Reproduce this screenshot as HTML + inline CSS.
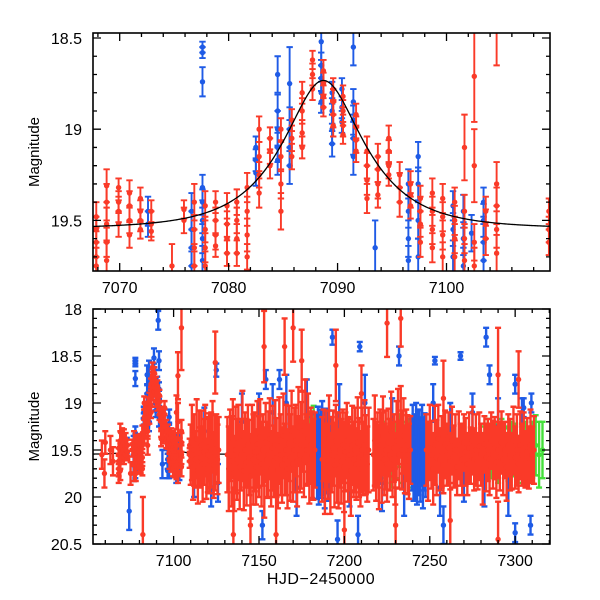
<!DOCTYPE html>
<html><head><meta charset="utf-8"><style>
html,body{margin:0;padding:0;background:#fff;}
svg{display:block;font-family:"Liberation Sans",Arial,sans-serif;}
</style></head><body>
<svg id="chart" width="600" height="600" viewBox="0 0 600 600" xmlns="http://www.w3.org/2000/svg">
<defs>
<clipPath id="clipTop"><rect x="93" y="33" width="457" height="238"/></clipPath>
<clipPath id="clipBot"><rect x="93" y="309" width="457" height="235"/></clipPath>
</defs>
<g id="topPanel"></g>
<g id="botPanel"></g>
</svg>
<script>
// ---- data arrays ----
const redDay = [7058,7059.5,7060,7063,7064.5,
7067.85,7067.85,7067.85,7067.85,7067.85, 7068.8,7068.8,7068.8,7068.8,7068.8, 7069.9,7069.9,7069.9,7069.9,
7070.9,7070.9,7070.9,7070.9, 7071.9,7071.9,7071.9,7071.9, 7072.9,7072.9,7072.9, 7074.8, 7075.9,7075.9,
7076.85,7076.85,7076.85,7076.85, 7077.85,7077.85,7077.85,7077.85, 7078.8,7078.8,7078.8,7078.8,
7079.85,7079.85,7079.85,7079.85, 7080.75,7080.75,7080.75,7080.75, 7081.7,7081.7,7081.7,7081.7,
7082.8,7082.8,7082.8,7082.8, 7083.8,7083.8,7083.8, 7084.8,7084.8,7084.8,7084.8, 7085.8,7085.8,7085.8,
7086.75,7086.75,7086.75,7086.75, 7087.7,7087.7,7087.7, 7088.7,7088.7,7088.7,7088.7, 7089.6,7089.6,7089.6,7089.6,
7090.5,7090.5,7090.5,7090.5, 7091.7,7091.7,7091.7,7091.7, 7092.7,7092.7,7092.7,7092.7, 7093.7,7093.7,7093.7,7093.7,
7094.7,7094.7,7094.7,7094.7, 7095.7,7095.7,7095.7, 7096.7,7096.7,7096.7, 7097.6,7097.6,7097.6,7097.6,
7098.7,7098.7,7098.7,7098.7, 7099.65,7099.65,7099.65,7099.65, 7100.75,7100.75,7100.75,7100.75,
7101.65,7101.65,7101.65,7101.65, 7102.55,7102.55,7102.55,7102.55, 7103.6,7103.6,7103.6,
7104.6,7104.6,7104.6,7104.6,7104.6, 7109.4,7109.4,7109.4,
7110,7110.7,7111.4,7112,7112.8,7113.5,7114.2,7115,7115.7,7116.4,7117,7117.8,7118.5,7119.2,7120,7120.7,7121.4,7122,7122.8,7123.5,7124.2,7125,7125.7,7126.4,
7131.5,7132.3,7133.1,7133.9,7134.7,7135.5,7136.3,7137.1,7137.9,7138.7,7139.5,7140.3,7141.1,7141.9,7142.7,7143.5,7144.3,7145.1,7145.9,7146.7,7147.5,7148.3,7149.1,7149.9,7150.7,7151.5,7152.3,7153.1,7153.9,7154.7,7155.5,7156.3,7157.1,7157.9,7158.7,7159.5,7160.3,7161.1,7161.9,7162.7,7163.5,7164.3,7165.1,7165.9,7166.7,7167.5,7168.3,7169.1,7169.9,7170.7,7171.5,7172.3,7173.1,7173.9,7174.7,7175.5,7176.3,7177.1,7177.9,7178.7,7179.5,7180.3,7181.1,7181.9,7182.7,
7187,7187.8,7188.6,7189.4,7190.2,7191,7191.8,7192.6,7193.4,7194.2,7195,7195.8,7196.6,7197.4,7198.2,7199,7199.8,7200.6,7201.4,7202.2,7203,7203.8,7204.6,7205.4,7206.2,7207,7207.8,7208.6,7209.4,7210.2,7211,7211.8,7212.6,7213.4,7214.2,
7217,7217.8,7218.6,7219.4,7220.2,7221,7221.8,7222.6,7223.4,7224.2,7225,7225.8,7226.6,7227.4,7228.2,7229,7229.8,7230.6,7231.4,7232.2,7233,7233.8,7234.6,7235.4,7236.2,7237,7237.8,7238.6,
7248,7249,7250,7251,7252,7253,7254,7255,7256,7257,7258,7259,7260,7261,7262,7263,7264,7265,7266,7267,7268,7269,7270,7271,7272,7273,7274,7275,7276,7277,7278,7279,7280,7281,7282,7283,7284,7285,7286,7287,7288,7289,7290,7291,7292,7293,7294,7295,7296,7297,7298,7299,7300,7301,7302,7303,7304,7305,7306,7307,7308,7309,7310,7311,
7124.4,7153,7165,7170,7175,7195,7210,7225,7233,7258,7290,7302,7135,7145,7160,7200,7230,7262,7290,7082];
const redMag = [19.55,19.75,19.42,19.5,19.62,
19.48,19.55,19.62,19.7,19.75, 19.31,19.4,19.52,19.62,19.72, 19.32,19.4,19.45,19.52,
19.35,19.42,19.5,19.58, 19.38,19.45,19.5,19.55, 19.45,19.52,19.56, 19.75, 19.44,19.5,
19.4,19.55,19.65,19.75, 19.42,19.55,19.65,19.75, 19.4,19.5,19.58,19.64,
19.42,19.52,19.6,19.68, 19.4,19.5,19.6,19.68, 19.32,19.45,19.58,19.7,
19.0,19.15,19.25,19.35, 19.05,19.12,19.2, 19.0,19.15,19.3,19.45, 18.95,19.05,19.15,
18.8,18.9,19.02,19.1, 18.62,18.7,18.78, 18.68,18.75,18.82,18.88, 18.78,18.85,18.92,18.98,
18.82,18.9,18.98,19.03, 18.92,18.99,19.06,19.12, 19.12,19.2,19.28,19.38, 19.15,19.22,19.3,19.36,
19.05,19.12,19.2,19.25, 19.25,19.32,19.4, 19.3,19.36,19.42, 19.38,19.45,19.52,19.62,
19.35,19.45,19.55,19.65, 19.38,19.48,19.58,19.7, 19.4,19.5,19.6,19.7,
19.1,19.45,19.6,19.72, 18.71,19.2,19.62,19.75, 19.45,19.52,19.6,
19.3,19.42,19.55,19.68,18.2, 19.45,19.55,19.62,
19.55,19.42,19.68,19.5,19.6,19.38,19.72,19.48,19.58,19.45,19.65,19.52,19.4,19.7,19.55,19.47,19.62,19.5,19.36,19.66,19.53,19.44,19.6,19.5,
19.55,19.7,19.45,19.62,19.38,19.75,19.5,19.6,19.42,19.68,19.55,19.35,19.72,19.5,19.63,19.45,19.58,19.78,19.4,19.6,19.52,19.68,19.44,19.57,19.36,19.65,19.5,19.74,19.42,19.6,19.55,19.38,19.7,19.48,19.62,19.45,19.58,19.72,19.4,19.55,19.66,19.35,19.6,19.5,19.7,19.43,19.58,19.3,19.65,19.5,19.4,19.62,19.25,19.55,19.45,19.3,19.6,19.2,19.5,19.38,19.65,19.45,19.55,19.6,19.5,
19.6,19.45,19.7,19.5,19.62,19.38,19.75,19.55,19.48,19.66,19.4,19.58,19.7,19.5,19.62,19.45,19.68,19.52,19.4,19.6,19.55,19.72,19.45,19.6,19.5,19.65,19.42,19.58,19.7,19.5,19.6,19.45,19.55,19.65,19.5,
19.55,19.4,19.62,19.5,19.68,19.45,19.58,19.35,19.6,19.5,19.65,19.42,19.55,19.3,19.6,19.48,19.7,19.4,19.25,19.55,19.2,19.5,19.35,19.6,19.45,19.55,19.62,19.5,
19.5,19.62,19.42,19.55,19.7,19.45,19.58,19.38,19.6,19.52,19.66,19.44,19.55,19.48,19.62,19.4,19.57,19.5,19.68,19.45,19.55,19.6,19.42,19.52,19.65,19.48,19.56,19.4,19.6,19.5,19.62,19.46,19.55,19.7,19.44,19.58,19.5,19.6,19.4,19.55,19.48,19.63,19.5,19.57,19.42,19.6,19.5,19.68,19.45,19.55,19.62,19.4,19.58,19.5,19.65,19.45,19.55,19.48,19.6,19.52,19.58,19.45,19.55,19.5,
18.57,18.4,18.4,18.2,18.55,18.6,18.9,18.15,18.1,18.95,18.7,18.75,20.4,20.3,20.4,20.35,20.3,20.25,20.45,20.4];
const redErr = [0.15,0.15,0.12,0.15,0.15,
0.08,0.07,0.08,0.08,0.1, 0.09,0.1,0.09,0.08,0.1, 0.05,0.06,0.06,0.07,
0.07,0.08,0.07,0.07, 0.06,0.06,0.06,0.05, 0.06,0.07,0.05, 0.12, 0.05,0.07,
0.1,0.08,0.1,0.08, 0.08,0.07,0.08,0.08, 0.06,0.07,0.08,0.06,
0.07,0.07,0.08,0.07, 0.07,0.07,0.08,0.07, 0.08,0.08,0.09,0.07,
0.07,0.08,0.07,0.08, 0.06,0.07,0.07, 0.06,0.08,0.08,0.1, 0.06,0.07,0.07,
0.06,0.07,0.07,0.06, 0.05,0.06,0.06, 0.06,0.06,0.06,0.05, 0.06,0.07,0.07,0.06,
0.06,0.06,0.06,0.05, 0.06,0.06,0.07,0.06, 0.08,0.07,0.08,0.08, 0.07,0.07,0.08,0.07,
0.07,0.06,0.07,0.06, 0.07,0.08,0.08, 0.07,0.07,0.07, 0.07,0.08,0.07,0.08,
0.08,0.08,0.08,0.08, 0.08,0.08,0.08,0.08, 0.08,0.08,0.08,0.09,
0.18,0.09,0.08,0.09, 0.25,0.2,0.1,0.1, 0.08,0.08,0.09,
0.12,0.1,0.1,0.1,0.45, 0.07,0.07,0.07,
0.32,0.4,0.35,0.38,0.3,0.42,0.35,0.4,0.32,0.37,0.4,0.35,0.38,0.32,0.4,0.36,0.34,0.4,0.38,0.35,0.4,0.32,0.37,0.35,
0.4,0.45,0.38,0.48,0.42,0.4,0.46,0.43,0.4,0.45,0.38,0.48,0.42,0.4,0.46,0.43,0.4,0.45,0.38,0.48,0.42,0.4,0.46,0.43,0.4,0.45,0.38,0.48,0.42,0.4,0.46,0.43,0.4,0.45,0.38,0.48,0.42,0.4,0.46,0.43,0.4,0.45,0.38,0.48,0.42,0.4,0.46,0.43,0.4,0.45,0.38,0.48,0.42,0.4,0.46,0.43,0.4,0.45,0.38,0.48,0.42,0.4,0.46,0.43,0.4,0.45,0.38,0.48,0.42,0.4,0.46,0.43,0.4,
0.4,0.45,0.38,0.48,0.42,0.4,0.45,0.38,0.48,0.42,0.4,0.45,0.38,0.48,0.42,0.4,0.45,0.38,0.48,0.42,0.4,0.45,0.38,0.48,0.42,0.4,0.45,0.38,0.48,0.42,0.4,0.45,0.38,0.48,0.42,
0.38,0.42,0.4,0.36,0.38,0.42,0.4,0.36,0.38,0.42,0.4,0.36,0.38,0.42,0.4,0.36,0.38,0.42,0.4,0.36,0.38,0.42,0.4,0.36,0.38,0.42,0.4,0.36,
0.33,0.38,0.3,0.36,0.33,0.38,0.3,0.36,0.33,0.38,0.3,0.36,0.33,0.38,0.3,0.36,0.33,0.38,0.3,0.36,0.33,0.38,0.3,0.36,0.33,0.38,0.3,0.36,0.33,0.38,0.3,0.36,0.33,0.38,0.3,0.36,0.33,0.38,0.3,0.36,0.33,0.38,0.3,0.36,0.33,0.38,0.3,0.36,0.33,0.38,0.3,0.36,0.33,0.38,0.3,0.36,0.33,0.38,0.3,0.36,0.33,0.38,0.3,0.36,
0.3,0.4,0.5,0.3,0.5,0.4,0.5,0.5,0.4,0.4,0.4,0.4,0.3,0.4,0.3,0.3,0.3,0.3,0.4,0.3];

const blueDay = [7072.6,7072.6, 7076.6,7076.6,7076.6,7076.6, 7077.6,7077.6,7077.6,7077.6,7077.6,7077.6,7077.6,7077.6,
7082.5,7082.5,7082.5, 7084.5,7084.5,7084.5,7084.5,7084.5, 7085.6,7085.6,7085.6,7085.6,
7088.5,7088.5,7088.5,7088.5,7088.5, 7089.5,7089.5,7089.5,7089.5, 7090.4,7090.4,7090.4,
7091.45,7091.45,7091.45,7091.45,7091.45, 7093.45, 7096.5,7096.5,7096.5,7096.5, 7097.4,7097.4,7097.4,7097.4,
7100.6,7100.6,7100.6, 7101.55,7101.55,7101.55, 7102.3, 7103.4,7103.4,7103.4,7103.4,
7183.5,7184,7184.5,7185,7185.5,7186,7186.5,7187,7187.5,7188,7188.5,7189,7189.5,7190,7190.5,7191,7191.5,
7239.5,7240,7240.5,7241,7241.5,7242,7242.5,7243,7243.5,7244,7244.5,7245,7245.5,7246,7246.5,7247,7247.5,
7112,7118,7122,7126,7140,7150,7158,7166,7172,7178,7197,7203,7212,7222,7228,7235,7252,7256,7262,7270,7275,7282,7290,7296,7304,7308,7309,7309.5,
7091,7125,7154,7162,7193,7209,7232,7253,7268,7283,7285,7300,7305,7074,7152,7196,7208,7258,7300];
const blueMag = [19.45,19.52, 19.45,19.55,19.65,19.75, 18.55,18.58,18.74,19.32,19.4,19.5,19.6,19.72,
19.1,19.17,19.24, 18.7,18.9,19.0,19.1,19.17, 18.75,19.0,19.1,19.2,
18.52,18.65,18.72,18.8,18.85, 18.8,18.9,19.0,19.08, 18.78,18.88,18.96,
18.55,18.85,18.95,19.05,19.15, 19.65, 19.3,19.45,19.6,19.72, 19.15,19.3,19.5,19.7,
19.42,19.55,19.7, 19.45,19.6,19.75, 19.57, 19.4,19.5,19.62,19.72,
19.5,19.62,19.4,19.7,19.55,19.45,19.65,19.38,19.6,19.5,19.72,19.42,19.58,19.5,19.66,19.44,19.55,
19.55,19.42,19.68,19.5,19.6,19.38,19.72,19.48,19.6,19.45,19.65,19.52,19.4,19.7,19.55,19.47,19.6,
19.8,19.3,19.9,19.85,19.2,19.3,19.1,19.0,19.9,19.15,19.2,19.8,19.0,19.85,19.3,19.8,19.0,19.9,19.2,19.85,19.1,19.9,19.25,19.9,19.25,19.6,20.3,19.0,
18.12,18.65,18.75,18.75,18.3,18.4,18.5,18.55,18.5,18.3,18.7,18.8,19.05,20.15,20.3,20.45,20.4,20.3,20.38];
const blueErr = [0.08,0.07, 0.1,0.1,0.1,0.08, 0.03,0.03,0.08,0.07,0.07,0.07,0.08,0.08,
0.06,0.06,0.07, 0.1,0.09,0.1,0.08,0.08, 0.2,0.12,0.1,0.1,
0.1,0.07,0.07,0.06,0.06, 0.06,0.07,0.08,0.07, 0.06,0.06,0.06,
0.1,0.07,0.08,0.09,0.1, 0.15, 0.08,0.09,0.1,0.08, 0.08,0.09,0.1,0.1,
0.08,0.09,0.09, 0.09,0.09,0.1, 0.1, 0.08,0.09,0.1,0.1,
0.38,0.4,0.36,0.38,0.42,0.38,0.36,0.4,0.38,0.38,0.4,0.36,0.38,0.42,0.38,0.36,0.4,
0.38,0.4,0.36,0.38,0.42,0.38,0.36,0.4,0.38,0.38,0.4,0.36,0.38,0.42,0.38,0.36,0.4,
0.2,0.25,0.2,0.2,0.3,0.4,0.3,0.3,0.3,0.4,0.4,0.3,0.3,0.3,0.35,0.4,0.2,0.3,0.2,0.2,0.2,0.2,0.3,0.3,0.3,0.25,0.1,0.1,
0.1,0.07,0.1,0.1,0.08,0.05,0.1,0.04,0.04,0.1,0.1,0.1,0.1,0.2,0.15,0.2,0.2,0.2,0.1];

const greenDay = [7180,7181,7182,7183,7184,7185,7186,7187,7188,7189,7190,7196,7200,7205,
7222,7224,7226,7228,7230,7232,7234,7236,7238,7240,7242,7244,7246,
7282,7284,7286,7288,7290,7292,7294,7296,7298,7300,7302,7304,7306,7308,7310,7312,7314,7316];
const greenMag = [19.4,19.5,19.35,19.55,19.45,19.6,19.5,19.4,19.55,19.45,19.5,19.5,19.6,19.45,
19.5,19.55,19.45,19.6,19.5,19.4,19.55,19.5,19.45,19.6,19.5,19.55,19.45,
19.5,19.45,19.55,19.5,19.6,19.45,19.5,19.55,19.45,19.5,19.6,19.5,19.45,19.55,19.5,19.45,19.55,19.5];
const greenErr = [0.3,0.28,0.32,0.3,0.3,0.3,0.28,0.3,0.3,0.3,0.3,0.25,0.25,0.25,
0.3,0.3,0.28,0.3,0.3,0.28,0.3,0.3,0.28,0.3,0.3,0.28,0.3,
0.25,0.28,0.25,0.28,0.25,0.28,0.25,0.28,0.25,0.28,0.25,0.28,0.25,0.28,0.3,0.32,0.35,0.3];

// model fit parameters
const fitBase = 19.545, fitT0 = 7088.7, fitU0 = 0.52, fitTE = 6.3;

const topXTicks = [7070,7080,7090,7100];
const topYTicks = [18.5,19,19.5];
const botXTicks = [7100,7150,7200,7250,7300];
const botYTicks = [18,18.5,19,19.5,20,20.5];

// ---- axes ----
const NS = "http://www.w3.org/2000/svg";
function mk(tag, attrs, parent){ const e=document.createElementNS(NS,tag); for(const k in attrs) e.setAttribute(k,attrs[k]); parent.appendChild(e); return e; }
const panels = {
  top:{g:document.getElementById('topPanel'), x0:93,x1:550,y0:33,y1:271, d0:7067.55,d1:7109.5, m0:18.4725,m1:19.7775, clip:'clipTop', xMaj:10,xMin:2, yMaj:0.5,yMin:0.1, xt:topXTicks, yt:topYTicks, sw:1.9, r:2.7, cap:3.2},
  bot:{g:document.getElementById('botPanel'), x0:93,x1:550,y0:309,y1:544, d0:7052.8,d1:7320.4, m0:18,m1:20.5, clip:'clipBot', xMaj:50,xMin:10, yMaj:0.5,yMin:0.1, xt:botXTicks, yt:botYTicks, sw:2.4, r:2.7, cap:3}
};
function xs(p,d){ return p.x0 + (d-p.d0)/(p.d1-p.d0)*(p.x1-p.x0); }
function ys(p,m){ return p.y0 + (m-p.m0)/(p.m1-p.m0)*(p.y1-p.y0); }
function fitMag(t){ const u=Math.sqrt(fitU0*fitU0+Math.pow((t-fitT0)/fitTE,2)); const A=(u*u+2)/(u*Math.sqrt(u*u+4)); return fitBase-2.5*Math.log10(A); }

function drawSeries(p, layer, days, mags, errs, color, name){
  const g = mk('g',{},layer);
  
  
  for(let i=0;i<days.length;i++){
    if(days[i]<p.d0-1||days[i]>p.d1+1) continue;
    const x=xs(p,days[i]), y=ys(p,mags[i]), yt=ys(p,mags[i]-errs[i]), yb=ys(p,mags[i]+errs[i]);
    const pt = mk('g',{},g);
    
    
    mk('path',{d:`M${x},${yt}V${yb}M${x-p.cap},${yt}h${2*p.cap}M${x-p.cap},${yb}h${2*p.cap}`,stroke:color,'stroke-width':p.sw,fill:'none'},pt);
    mk('circle',{cx:x,cy:y,r:p.r,fill:color},pt);
  }
}

function drawPanel(p, key){
  const layer = mk('g',{'clip-path':`url(#${p.clip})`},p.g);
  
  
  let d='';
  for(let t=p.d0;t<=p.d1;t+=(p.d1-p.d0)/400){ d+=(d?'L':'M')+xs(p,t).toFixed(2)+','+ys(p,fitMag(t)).toFixed(2); }
  const c = mk('path',{d:d,stroke:'#000','stroke-width':1.3,fill:'none'},layer);
  
  
  drawSeries(p, layer, greenDay, greenMag, greenErr, '#44e03a', key+'-green-series');
  drawSeries(p, layer, blueDay, blueMag, blueErr, '#1f5be6', key+'-blue-series');
  drawSeries(p, layer, redDay, redMag, redErr, '#fa3a28', key+'-red-series');
  if(key==='top') layer.appendChild(c);
  const fr = mk('rect',{x:p.x0,y:p.y0,width:p.x1-p.x0,height:p.y1-p.y0,fill:'none',stroke:'#000','stroke-width':1.6},p.g);
  
  
  let td='';
  const xStart=Math.ceil(p.d0/p.xMin)*p.xMin;
  for(let v=xStart; v<=p.d1; v+=p.xMin){
    const maj = Math.abs(v/p.xMaj-Math.round(v/p.xMaj))<1e-6;
    const L = maj?8:4, x=xs(p,v);
    td+=`M${x},${p.y1}v${-L}M${x},${p.y0}v${L}`;
  }
  const yStart=Math.ceil(p.m0/p.yMin-1e-6)*p.yMin;
  for(let v=yStart; v<=p.m1+1e-6; v+=p.yMin){
    const maj = Math.abs(v/p.yMaj-Math.round(v/p.yMaj))<1e-6;
    const L = maj?8:4, y=ys(p,v);
    td+=`M${p.x0},${y}h${L}M${p.x1},${y}h${-L}`;
  }
  const tk = mk('path',{d:td,stroke:'#000','stroke-width':1.3,fill:'none'},p.g);
  
  
  p.xt.forEach(v=>{
    const t = mk('text',{x:xs(p,v),y:p.y1+22,'text-anchor':'middle','font-size':16,fill:'#000'},p.g);
    t.textContent=String(v);
    
    
  });
  p.yt.forEach(v=>{
    const t = mk('text',{x:82,y:ys(p,v)+6,'text-anchor':'end','font-size':16,fill:'#000'},p.g);
    t.textContent=String(v);
    
    
  });
  const yl = mk('text',{x:0,y:0,'text-anchor':'middle','font-size':15,fill:'#000',transform:`translate(39,${(p.y0+p.y1)/2}) rotate(-90)`},p.g);
  yl.textContent='Magnitude';
  
  
}
drawPanel(panels.top,'top');
drawPanel(panels.bot,'bot');
const xl = mk('text',{x:321,y:584,'text-anchor':'middle','font-size':16,fill:'#000','letter-spacing':'0.5'},document.getElementById('chart'));
xl.textContent='HJD\u22122450000';


</script>
</body></html>
